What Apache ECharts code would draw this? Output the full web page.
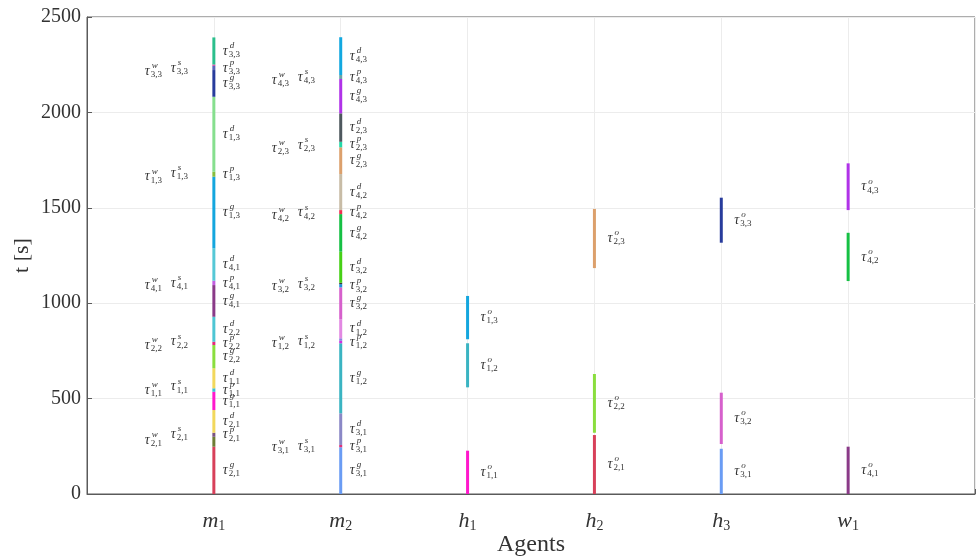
<!DOCTYPE html>
<html>
<head>
<meta charset="utf-8">
<script src="https://cdn.jsdelivr.net/npm/echarts@6/dist/echarts.min.js"></script>
<style>
  html, body { margin: 0; padding: 0; background: #ffffff; }
  #chart { width: 979px; height: 557px; }
</style>
</head>
<body>
<div id="chart"></div>
<script>
// Agents along the horizontal axis (letter + index)
const agentNames = ['m', 'm', 'h', 'h', 'h', 'w'];
const agentIdx = ['1', '2', '1', '2', '3', '1'];

// Task phase segments: agent position, start / end time [s], phase and task index
const segAgent = [
  1, 1, 1, 1, 1, 1, 1, 1, 1, 1, 1, 1, 1, 1, 1, 1, 1, 1, 1, 1,
  2, 2, 2, 2, 2, 2, 2, 2, 2, 2, 2, 2, 2, 2, 2, 2, 2, 2, 2, 2,
  3, 3, 3,
  4, 4, 4,
  5, 5, 5,
  6, 6, 6
];
const segStart = [
  0, 248, 300, 321, 440, 536, 554, 659, 781, 798, 929, 1095, 1118, 1288, 1663, 1689, 2082, 2222, 2244, 2251,
  0, 245, 257, 423, 790, 803, 816, 916, 1083, 1100, 1107, 1270, 1467, 1488, 1677, 1817, 1846, 1995, 2175, 2196,
  0, 559, 811,
  0, 321, 1184,
  0, 262, 1317,
  0, 1116, 1488
];
const segEnd = [
  248, 300, 321, 440, 536, 554, 659, 781, 798, 929, 1095, 1118, 1288, 1663, 1689, 2082, 2222, 2244, 2251, 2393,
  245, 257, 423, 790, 803, 816, 916, 1083, 1100, 1107, 1270, 1467, 1488, 1677, 1817, 1846, 1995, 2175, 2196, 2394,
  227, 790, 1038,
  309, 629, 1494,
  237, 531, 1553,
  248, 1369, 1733
];
const segPhase = [
  'g', '', 'p', 'd', 'g', 'p', 'd', 'g', 'p', 'd', 'g', 'p', 'd', 'g', 'p', 'd', 'g', 'p', '', 'd',
  'g', 'p', 'd', 'g', 'p', '', 'd', 'g', 'p', '', 'd', 'g', 'p', 'd', 'g', 'p', 'd', 'g', 'p', 'd',
  'o', 'o', 'o',
  'o', 'o', 'o',
  'o', 'o', 'o',
  'o', 'o', 'o'
];
const segTask = [
  '2,1', '', '2,1', '2,1', '1,1', '1,1', '1,1', '2,2', '2,2', '2,2', '4,1', '4,1', '4,1', '1,3', '1,3', '1,3', '3,3', '3,3', '', '3,3',
  '3,1', '3,1', '3,1', '1,2', '1,2', '', '1,2', '3,2', '3,2', '', '3,2', '4,2', '4,2', '4,2', '2,3', '2,3', '2,3', '4,3', '4,3', '4,3',
  '1,1', '1,2', '1,3',
  '2,1', '2,2', '2,3',
  '3,1', '3,2', '3,3',
  '4,1', '4,2', '4,3'
];

// Waiting / setup annotations placed left of the machine columns
const waitAgent = [1, 1, 1, 1, 1, 1, 2, 2, 2, 2, 2, 2];
const waitTask = ['2,1', '1,1', '2,2', '4,1', '1,3', '3,3', '3,1', '1,2', '3,2', '4,2', '2,3', '4,3'];
const waitTime = [283, 545, 781, 1095, 1663, 2217, 245, 790, 1087, 1462, 1812, 2170];
const setupTime = [314, 562, 798, 1104, 1681, 2233, 252, 798, 1100, 1474, 1829, 2184];

// Segment colours, in the same order as the segments
const segColors = [
  '#d8405a', '#6e7d34', '#7a5480', '#f2d85c', '#ff18cc', '#3cc0d2', '#f2d85c', '#8ade3e', '#e6287a', '#4ec6d4',
  '#8a3a88', '#c25ee0', '#56c8d6', '#14a6de', '#88bd3e', '#86df8e', '#283c9c', '#5a66ba', '#d040a0', '#2bbf8c',
  '#6a9cf4', '#e0307a', '#8a88c6', '#3ab4c2', '#d030e0', '#8a80e0', '#e288e2', '#d660cc', '#2090d8', '#3a3a3a',
  '#46d016', '#16c044', '#f03050', '#c8bca6', '#dca06c', '#22d8a8', '#4e585e', '#b032e8', '#6aa6a6', '#12a8e0',
  '#ff18cc', '#3ab4c2', '#14a6de',
  '#d8405a', '#8ade3e', '#dca06c',
  '#6a9cf4', '#d660cc', '#283c9c',
  '#8a3a88', '#16c044', '#b032e8'
];

const SERIF = "'Liberation Serif', 'DejaVu Serif', serif";
const TEXT = '#333333';

// Build annotation list: right-hand phase labels and left-hand wait/setup labels
const labels = [];
segAgent.forEach((a, i) => {
  if (!segPhase[i]) return;
  labels.push({
    x: a, t: (segStart[i] + segEnd[i]) / 2,
    dx: segPhase[i] === 'o' ? 13 : 9,
    sup: segPhase[i], sub: segTask[i]
  });
});
waitAgent.forEach((a, i) => {
  labels.push({ x: a, t: waitTime[i], dx: -69, sup: 'w', sub: waitTask[i] });
  labels.push({ x: a, t: setupTime[i], dx: -43, sup: 's', sub: waitTask[i] });
});

function tauText(px, py, sup, sub) {
  return {
    type: 'group',
    children: [
      { type: 'text', x: px, y: py, style: { text: 'τ', fontFamily: SERIF, fontStyle: 'italic', fontSize: 14, fill: TEXT, align: 'left', verticalAlign: 'middle' } },
      { type: 'text', x: px + 7, y: py - 5.5, style: { text: sup, fontFamily: SERIF, fontStyle: 'italic', fontSize: 9, fill: TEXT, align: 'left', verticalAlign: 'middle' } },
      { type: 'text', x: px + 6, y: py + 3.5, style: { text: sub, fontFamily: SERIF, fontSize: 9, fill: TEXT, align: 'left', verticalAlign: 'middle' } }
    ]
  };
}

const chart = echarts.init(document.getElementById('chart'), null, { renderer: 'canvas' });

chart.setOption({
  animation: false,
  backgroundColor: '#ffffff',
  grid: {
    left: 87, right: 4, top: 17, bottom: 63,
    containLabel: false, outerBoundsMode: 'none',
    show: true, borderColor: '#5a5a5a', borderWidth: 1, backgroundColor: 'transparent'
  },
  xAxis: {
    type: 'value', min: 0, max: 7, interval: 1,
    name: 'Agents', nameLocation: 'middle', nameGap: 39, nameMoveOverlap: false,
    nameTextStyle: { fontFamily: SERIF, fontSize: 24, color: TEXT },
    axisLine: { show: true, lineStyle: { color: '#5a5a5a', width: 1 } },
    axisTick: { show: true, inside: true, length: 5, lineStyle: { color: '#5a5a5a' } },
    splitLine: { show: true, lineStyle: { color: '#ececec', width: 1 } },
    axisLabel: {
      margin: 14,
      formatter: v => (v >= 1 && v <= 6) ? '{i|' + agentNames[v - 1] + '}{s|' + agentIdx[v - 1] + '}' : '',
      rich: {
        i: { fontFamily: SERIF, fontStyle: 'italic', fontSize: 22, color: TEXT, lineHeight: 26 },
        s: { fontFamily: SERIF, fontSize: 14, color: TEXT, padding: [10, 0, 0, 0] }
      }
    }
  },
  yAxis: {
    type: 'value', min: 0, max: 2500, interval: 500,
    name: 't [s]', nameLocation: 'middle', nameGap: 54, nameMoveOverlap: false,
    nameTextStyle: { fontFamily: SERIF, fontSize: 22, color: TEXT },
    axisLine: { show: true, lineStyle: { color: '#5a5a5a', width: 1 } },
    axisTick: { show: true, inside: true, length: 5, lineStyle: { color: '#5a5a5a' } },
    splitLine: { show: true, lineStyle: { color: '#ececec', width: 1 } },
    axisLabel: { fontFamily: SERIF, fontSize: 20, color: TEXT, margin: 6, formatter: v => String(v) }
  },
  series: [
    {
      type: 'custom',
      name: 'phases',
      clip: true,
      encode: { x: 0, y: [1, 2] },
      data: segAgent.map((a, i) => [a, segStart[i], segEnd[i]]),
      renderItem: (params, api) => {
        const x = api.value(0);
        const p0 = api.coord([x, api.value(1)]);
        const p1 = api.coord([x, api.value(2)]);
        return {
          type: 'rect',
          shape: { x: p0[0] - 1.5, y: p1[1], width: 3, height: p0[1] - p1[1] },
          style: { fill: segColors[params.dataIndex] }
        };
      }
    },
    {
      type: 'custom',
      name: 'labels',
      silent: true,
      encode: { x: 0, y: 1 },
      data: labels.map(l => [l.x, l.t]),
      renderItem: (params, api) => {
        const l = labels[params.dataIndex];
        const p = api.coord([api.value(0), api.value(1)]);
        return tauText(p[0] + l.dx, p[1], l.sup, l.sub);
      }
    }
  ]
});
</script>
</body>
</html>
